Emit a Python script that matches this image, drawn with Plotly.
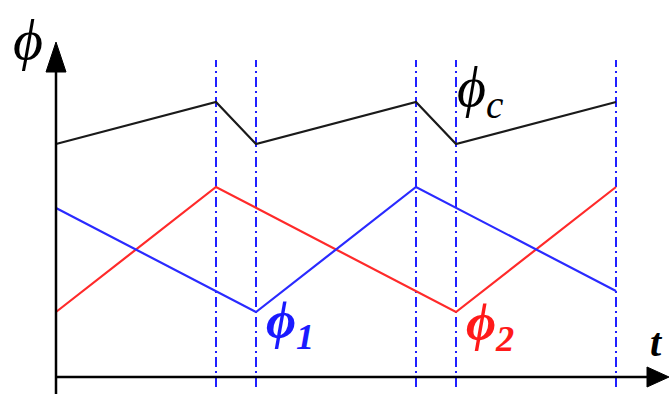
import plotly.graph_objects as go

# time instants (switching points)
t_black = [0, 4, 5, 9, 10, 14]
phi_c = [23.3, 27.5, 23.3, 27.5, 23.3, 27.5]

t_red = [0, 4, 10, 14]
phi_2 = [6.5, 19.0, 6.5, 19.0]

t_blue = [0, 5, 9, 14]
phi_1 = [16.9, 6.5, 19.0, 8.6]

t_marks = [4, 5, 9, 10, 14]

X_MIN, X_MAX = -1.4, 15.325
Y_MIN, Y_MAX = -1.7, 37.7

fig = go.Figure()

# vertical dash-dot markers
for tm in t_marks:
    fig.add_trace(go.Scatter(x=[tm, tm], y=[-1.0, 31.7], mode="lines",
                             line=dict(color="#2020ff", width=2, dash="10px,4px,2px,4px"),
                             hoverinfo="skip", showlegend=False))

fig.add_trace(go.Scatter(x=t_black, y=phi_c, mode="lines",
                         line=dict(color="#1a1a1a", width=2.2), showlegend=False))
fig.add_trace(go.Scatter(x=t_red, y=phi_2, mode="lines",
                         line=dict(color="#ff2a2a", width=2.2), showlegend=False))
fig.add_trace(go.Scatter(x=t_blue, y=phi_1, mode="lines",
                         line=dict(color="#2a2aff", width=2.2), showlegend=False))

shapes = [
    # y axis line
    dict(type="line", xref="x", yref="y", x0=0, x1=0, y0=Y_MIN, y1=30.5,
         line=dict(color="black", width=2.5)),
    # x axis line
    dict(type="line", xref="x", yref="y", x0=0, x1=14.8, y0=0, y1=0,
         line=dict(color="black", width=2.5)),
    # y arrow head
    dict(type="path", xref="x", yref="y",
         path="M -0.25,30.5 L 0.25,30.5 L 0,33.5 Z",
         fillcolor="black", line=dict(color="black", width=1)),
    # x arrow head
    dict(type="path", xref="x", yref="y",
         path="M 14.775,1.0 L 14.775,-1.0 L 15.325,0 Z",
         fillcolor="black", line=dict(color="black", width=1)),
]

font_lbl = "Liberation Serif, Times New Roman, serif"
annotations = [
    dict(x=-0.7, y=33.8, text="<i>ϕ</i>", showarrow=False,
         font=dict(family=font_lbl, size=58, color="black")),
    dict(x=10.6, y=28.6, text="<i>ϕ<sub>c</sub></i>", showarrow=False,
         font=dict(family=font_lbl, size=56, color="black")),
    dict(x=5.85, y=5.3, text="<b><i>ϕ<sub>1</sub></i></b>", showarrow=False,
         font=dict(family=font_lbl, size=52, color="#1a1aff")),
    dict(x=10.85, y=5.1, text="<b><i>ϕ<sub>2</sub></i></b>", showarrow=False,
         font=dict(family=font_lbl, size=52, color="#ff1a1a")),
    dict(x=15.02, y=3.5, text="<b><i>t</i></b>", showarrow=False,
         font=dict(family=font_lbl, size=40, color="black")),
]

fig.update_layout(
    width=669, height=394,
    margin=dict(l=0, r=0, t=0, b=0),
    paper_bgcolor="white", plot_bgcolor="white",
    xaxis=dict(range=[X_MIN, X_MAX], visible=False, fixedrange=True),
    yaxis=dict(range=[Y_MIN, Y_MAX], visible=False, fixedrange=True),
    shapes=shapes, annotations=annotations,
)

fig.write_html("out.html", config={"displayModeBar": False},
               post_script="document.body.style.margin='0';document.body.style.overflow='hidden';")
